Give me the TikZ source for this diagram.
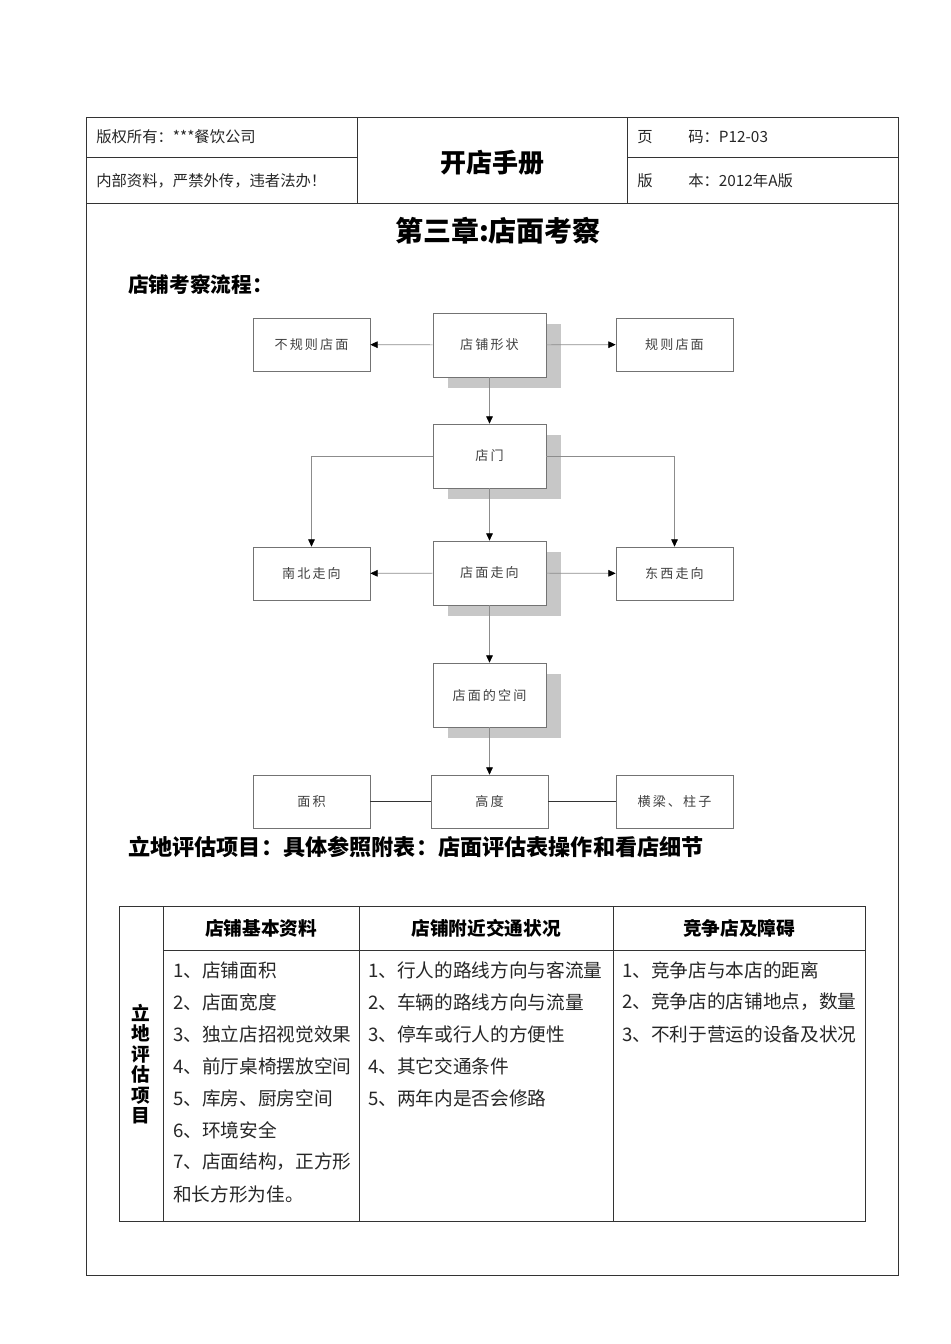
\documentclass[tikz,border=0pt]{standalone}
\usepackage{fontspec}
\newfontfamily\cjk{Noto Sans CJK SC}
\usetikzlibrary{arrows.meta,shadows,positioning}

\begin{document}
\begin{tikzpicture}[
  x=0.75pt,
  y=-0.75pt,
  line join=miter,
  page line/.style={draw=black!80, line width=0.75pt},
  head text/.style={anchor=west, inner sep=0pt, font=\cjk\fontsize{11.5}{13}\selectfont, text=black!85},
  flow box/.style={draw=black!55, fill=white, line width=0.5pt, inner sep=0pt,
    minimum width=84.75pt, minimum height=48pt,
    font=\cjk\fontsize{9.8}{11}\selectfont\addfontfeature{LetterSpace=16}, text=black!75},
  flow main/.style={flow box,
    general shadow={fill=black!22, shadow xshift=10.9pt, shadow yshift=-7.9pt}},
  flow side/.style={flow box, minimum width=87.75pt, minimum height=39.75pt},
  flow arrow/.style={draw=black!45, line width=0.5pt,
    -{Triangle[length=5.5pt, width=5pt, color=black]}},
  flow link/.style={draw=black!80, line width=0.6pt},
  cell text/.style={anchor=west, inner sep=0pt, font=\cjk\fontsize{14}{16}\selectfont, text=black!85},
  cell head/.style={inner sep=0pt, font=\cjk\bfseries\fontsize{14}{16}\selectfont}
]
  \useasboundingbox (0,0) rectangle (950,1344);

  % Page frame and the header block.
  \draw[page line] (86,118) rectangle (898,1275);
  \draw[page line] (86,204) -- (898,204);
  \draw[page line] (357,118) -- (357,204);
  \draw[page line] (627,118) -- (627,204);
  \draw[page line] (86,158) -- (357,158);
  \draw[page line] (627,158) -- (898,158);

  \node[head text] (owner) at (96,137) {版权所有：***餐饮公司};
  \node[head text] (notice) at (96,181) {内部资料，严禁外传，违者法办！};
  \node[font=\cjk\bfseries\fontsize{19.5}{22}\selectfont] (manual) at (492,163) {开店手册};
  \node[head text] (pagelbl) at (637,137) {页};
  \node[head text] (pageno) at (688,137) {码：P12-03};
  \node[head text] (verlbl) at (637,181) {版};
  \node[head text] (verno) at (688,181) {本：2012年A版};

  % Chapter title and section headings.
  \node[font=\cjk\bfseries\fontsize{21}{24}\selectfont] (chapter) at (498,231) {第三章:店面考察};
  \node[anchor=west, inner sep=0pt, font=\cjk\bfseries\fontsize{15.5}{18}\selectfont] (flowtitle) at (128,285) {店铺考察流程：};

  % Survey flow.
  \node[flow main] (shape) at (489.5,345) {店铺形状};
  \node[flow side] (irregular) at (311.5,344.5) {不规则店面};
  \node[flow side] (regular) at (674.5,344.5) {规则店面};
  \node[flow main] (door) at (489.5,456) {店门};
  \node[flow main] (facing) at (489.5,573) {店面走向};
  \node[flow side] (northsouth) at (311.5,573.5) {南北走向};
  \node[flow side] (eastwest) at (674.5,573.5) {东西走向};
  \node[flow main] (space) at (489.5,695) {店面的空间};
  \node[flow side] (area) at (311.5,801.5) {面积};
  \node[flow side] (height) at (489.5,801.5) {高度};
  \node[flow side] (beam) at (674.5,801.5) {横梁、柱子};

  \draw[flow arrow] (shape) -- (irregular);
  \draw[flow arrow] (shape) -- (regular);
  \draw[flow arrow] (shape) -- (door);
  \draw[flow arrow] (door.west) -| (northsouth.north);
  \draw[flow arrow] (door.east) -| (eastwest.north);
  \draw[flow arrow] (door) -- (facing);
  \draw[flow arrow] (facing) -- (northsouth);
  \draw[flow arrow] (facing) -- (eastwest);
  \draw[flow arrow] (facing) -- (space);
  \draw[flow arrow] (space) -- (height);
  \draw[flow link] (area) -- (height);
  \draw[flow link] (height) -- (beam);

  \node[anchor=west, inner sep=0pt, font=\cjk\bfseries\fontsize{16.6}{19}\selectfont] (evaltitle) at (128,847)
    {立地评估项目：具体参照附表：店面评估表操作和看店细节};

  % Evaluation table.
  \draw[page line] (119,906) rectangle (865,1221);
  \draw[page line] (163,950) -- (865,950);
  \foreach \x in {163,359,613} {
    \draw[page line] (\x,906) -- (\x,1221);
  }

  \node[cell head, align=center, font=\cjk\bfseries\fontsize{14}{15.4}\selectfont] (rowlbl) at (141,1064)
    {立\\地\\评\\估\\项\\目};
  \node[cell head] (basichead) at (261,928) {店铺基本资料};
  \node[cell head] (traffichead) at (486,928) {店铺附近交通状况};
  \node[cell head] (rivalhead) at (739,928) {竞争店及障碍};

  \foreach \y/\txt in {
    970/1、店铺面积,
    1002/2、店面宽度,
    1034/3、独立店招视觉效果,
    1066/4、前厅桌椅摆放空间,
    1098/5、库房、厨房空间,
    1130/6、环境安全,
    1162/7、店面结构，正方形,
    1194/和长方形为佳。
  } {
    \node[cell text] at (173,\y) {\txt};
  }

  \foreach \y/\txt in {
    970/1、行人的路线方向与客流量,
    1002/2、车辆的路线方向与流量,
    1034/3、停车或行人的方便性,
    1066/4、其它交通条件,
    1098/5、两年内是否会修路
  } {
    \node[cell text] at (368,\y) {\txt};
  }

  \foreach \y/\txt in {
    970/1、竞争店与本店的距离,
    1002/2、竞争店的店铺地点，数量,
    1034/3、不利于营运的设备及状况
  } {
    \node[cell text] at (622,\y) {\txt};
  }
\end{tikzpicture}
\end{document}
